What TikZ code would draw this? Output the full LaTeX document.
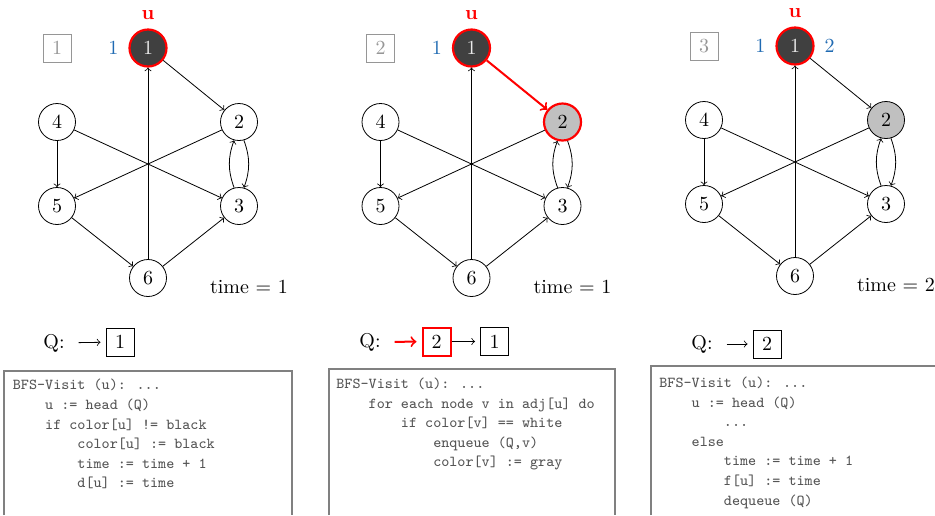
\documentclass[tikz,border=0pt]{standalone}
\usetikzlibrary{positioning}
\definecolor{nodedark}{RGB}{64,64,64}
\definecolor{nodegray}{RGB}{192,192,192}
\definecolor{stampblue}{RGB}{31,106,178}
\definecolor{codegray}{RGB}{85,85,85}
\definecolor{framegray}{RGB}{128,128,128}
\definecolor{boxgray}{RGB}{150,150,150}
\newcommand{\ind}{\hphantom{xxxx}}

\begin{document}
\begin{tikzpicture}[x=0.5pt,y=0.5pt,>=to]
  \tikzstyle{vertex}=[circle,draw,minimum size=18.5pt,inner sep=0pt]
  \tikzstyle{black vertex}=[vertex,fill=nodedark,text=white!92!black,draw=red,line width=1.1pt]
  \tikzstyle{gray vertex}=[vertex,fill=nodegray]
  \tikzstyle{red vertex}=[gray vertex,draw=red,line width=1.1pt]
  \tikzstyle{edge}=[->,line width=0.4pt]
  \tikzstyle{stepbox}=[draw=boxgray,text=boxgray,minimum size=14pt,inner sep=0pt,line width=0.5pt]
  \tikzstyle{stamp}=[text=stampblue]
  \tikzstyle{ulabel}=[text=red,font=\bfseries]
  \tikzstyle{qbox}=[draw,minimum size=14pt,inner sep=0pt,line width=0.5pt]
  \tikzstyle{code}=[anchor=north west,align=left,inner sep=0pt,text=codegray,
                    font=\ttfamily\fontsize{7.6}{9.8}\selectfont]
  \tikzstyle{frame}=[draw=framegray,line width=0.6pt]
  \useasboundingbox (0,0) rectangle (935,-515);

  % step 1
  \begin{scope}
    \node[black vertex] (a1) at (148,-48) {1};
    \node[vertex] (a2) at (239,-122) {2};
    \node[vertex] (a3) at (239,-206) {3};
    \node[vertex] (a4) at (57,-122) {4};
    \node[vertex] (a5) at (57,-206) {5};
    \node[vertex] (a6) at (148,-278) {6};
    \node[stepbox] (as) at (57,-48) {1};
    \node[stamp,left=1.5pt of a1] (ad) {1};
    \node[ulabel,above=1pt of a1] (au) {u};
    \node (at) at (249,-287) {time = 1};
    \draw[edge] (a1) -- (a2);
    \draw[edge] (a6) -- (a1);
    \draw[edge] (a2) -- (a5);
    \draw[edge] (a4) -- (a3);
    \draw[edge] (a4) -- (a5);
    \draw[edge] (a5) -- (a6);
    \draw[edge] (a6) -- (a3);
    \draw[edge] (a2.-75) to[bend left=20] (a3.75);
    \draw[edge] (a3.105) to[bend left=20] (a2.-105);
  \end{scope}

  % step 2
  \begin{scope}[xshift=161.75pt]
    \node[black vertex] (b1) at (148,-48) {1};
    \node[red vertex] (b2) at (239,-122) {2};
    \node[vertex] (b3) at (239,-206) {3};
    \node[vertex] (b4) at (57,-122) {4};
    \node[vertex] (b5) at (57,-206) {5};
    \node[vertex] (b6) at (148,-278) {6};
    \node[stepbox] (bs) at (57,-48) {2};
    \node[stamp,left=1.5pt of b1] (bd) {1};
    \node[ulabel,above=1pt of b1] (bu) {u};
    \node (bt) at (249,-287) {time = 1};
    \draw[->,red,line width=1pt] (b1) -- (b2);
    \draw[edge] (b6) -- (b1);
    \draw[edge] (b2) -- (b5);
    \draw[edge] (b4) -- (b3);
    \draw[edge] (b4) -- (b5);
    \draw[edge] (b5) -- (b6);
    \draw[edge] (b6) -- (b3);
    \draw[edge] (b2.-75) to[bend left=20] (b3.75);
    \draw[edge] (b3.105) to[bend left=20] (b2.-105);
  \end{scope}

  % step 3
  \begin{scope}[xshift=323.5pt,yshift=1pt]
    \node[black vertex] (c1) at (148,-48) {1};
    \node[gray vertex] (c2) at (239,-122) {2};
    \node[vertex] (c3) at (239,-206) {3};
    \node[vertex] (c4) at (57,-122) {4};
    \node[vertex] (c5) at (57,-206) {5};
    \node[vertex] (c6) at (148,-278) {6};
    \node[stepbox] (cs) at (57,-48) {3};
    \node[stamp,left=1.5pt of c1] (cd) {1};
    \node[stamp,right=1.5pt of c1] (cf) {2};
    \node[ulabel,above=1pt of c1] (cu) {u};
    \node (ct) at (249,-287) {time = 2};
    \draw[edge] (c1) -- (c2);
    \draw[edge] (c6) -- (c1);
    \draw[edge] (c2) -- (c5);
    \draw[edge] (c4) -- (c3);
    \draw[edge] (c4) -- (c5);
    \draw[edge] (c5) -- (c6);
    \draw[edge] (c6) -- (c3);
    \draw[edge] (c2.-75) to[bend left=20] (c3.75);
    \draw[edge] (c3.105) to[bend left=20] (c2.-105);
  \end{scope}

  % queues
  \node (aq) at (54,-343) {Q:};
  \node[qbox] (aq1) at (120,-342) {1};
  \draw[->,shorten <=3.5pt,shorten >=2.5pt] (aq) -- (aq1);

  \node (bq) at (370,-342) {Q:};
  \node[qbox,draw=red,line width=1pt] (bq2) at (436.5,-341.5) {2};
  \node[qbox] (bq1) at (494.5,-341.5) {1};
  \draw[->,red,line width=1pt,shorten <=3.5pt,shorten >=2.5pt] (bq) -- (bq2);
  \draw[->,shorten >=2.5pt] (bq2) -- (bq1);

  \node (cq) at (702,-344) {Q:};
  \node[qbox] (cq2) at (767,-344) {2};
  \draw[->,shorten <=3.5pt,shorten >=2.5pt] (cq) -- (cq2);

  % code
  \draw[frame] (4,-515) |- (292,-371) -- (292,-515);
  \node[code] (ac) at (12.5,-379) {BFS-Visit (u): ...\\
    \ind u := head (Q)\\
    \ind if color[u] != black\\
    \ind\ind color[u] := black\\
    \ind\ind time := time + 1\\
    \ind\ind d[u] := time};

  \draw[frame] (329,-515) |- (615,-369) -- (615,-515);
  \node[code] (bc) at (336,-377.5) {BFS-Visit (u): ...\\
    \ind for each node v in adj[u] do\\
    \ind\ind if color[v] == white\\
    \ind\ind\ind enqueue (Q,v)\\
    \ind\ind\ind color[v] := gray};

  \draw[frame] (651,-515) |- (940,-366);
  \node[code] (cc) at (659,-376.5) {BFS-Visit (u): ...\\
    \ind u := head (Q)\\
    \ind\ind ...\\
    \ind else\\
    \ind\ind time := time + 1\\
    \ind\ind f[u] := time\\
    \ind\ind dequeue (Q)};
\end{tikzpicture}
\end{document}
